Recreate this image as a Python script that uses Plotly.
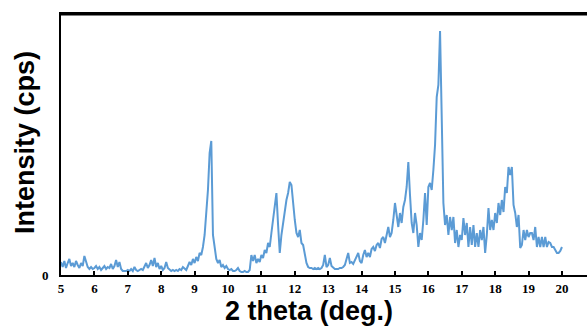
import numpy as np
import plotly.graph_objects as go

# 2-theta grid (deg), 0.05 step
theta_start, theta_step, n_pts = 5.0, 0.05, 301
two_theta = np.round(theta_start + theta_step * np.arange(n_pts), 2)

# Intensity (arbitrary units), one row per degree
intensity = [
    13, 8, 14, 7, 12, 16, 9, 12, 8, 14, 10, 7, 12, 9, 19, 14, 8, 6, 8, 6,          # 5
    7, 9, 6, 8, 5, 7, 9, 6, 8, 7, 11, 6, 9, 15, 8, 13, 6, 4, 4, 4,                 # 6
    5, 4, 6, 4, 8, 5, 4, 5, 6, 5, 8, 12, 7, 10, 15, 9, 17, 8, 12, 6,               # 7
    9, 5, 7, 13, 7, 5, 4, 5, 4, 5, 4, 6, 5, 8, 6, 5, 9, 13, 10, 16,                # 8
    12, 18, 14, 22, 20, 28, 40, 62, 85, 122, 134, 40, 28, 16, 12, 15, 8, 10, 7, 9,  # 9
    6, 5, 6, 4, 4, 5, 7, 4, 3, 3, 4, 3, 3, 5, 20, 14, 20, 12, 16, 13,              # 10
    20, 17, 25, 22, 32, 28, 42, 55, 70, 82, 50, 22, 40, 52, 62, 75, 82, 93, 90, 68, # 11
    55, 42, 38, 45, 32, 30, 22, 12, 8, 7, 7, 6, 7, 6, 7, 6, 7, 10, 20, 8,          # 12
    10, 17, 9, 7, 6, 6, 6, 7, 7, 8, 10, 16, 22, 12, 13, 11, 15, 18, 22, 14,        # 13
    12, 20, 25, 18, 22, 18, 26, 28, 24, 30, 32, 27, 36, 38, 32, 40, 48, 38, 42, 55, # 14
    72, 60, 48, 62, 52, 68, 75, 88, 113, 80, 52, 42, 62, 50, 28, 42, 35, 55, 82, 50, # 15
    88, 92, 85, 105, 130, 178, 190, 244, 140, 72, 50, 60, 40, 58, 45, 58, 32, 45, 28, 40, # 16
    35, 57, 40, 52, 28, 48, 30, 50, 28, 42, 28, 45, 35, 48, 22, 40, 67, 45, 55, 45, # 17
    62, 52, 72, 60, 75, 63, 88, 82, 108, 100, 108, 70, 62, 48, 60, 27, 30, 45, 35, 45, # 18
    38, 42, 42, 35, 48, 28, 38, 28, 38, 28, 38, 28, 33, 32, 28, 28, 25, 22, 22, 24, # 19
    28,                                                                              # 20
]

x_ticks = list(range(5, 21))
x_tick_labels = [str(v) for v in x_ticks]
y_ticks = [0]
y_tick_labels = ["0"]

fig = go.Figure()
fig.add_trace(go.Scatter(
    x=two_theta, y=intensity, mode="lines",
    line=dict(color="#5B9BD5", width=2),
    showlegend=False, hoverinfo="skip",
))

tick_font = dict(family="Liberation Serif", size=13, color="black", weight="bold")
title_font = dict(family="Liberation Sans", size=27, color="black", weight="bold")

fig.update_layout(
    width=587, height=334,
    margin=dict(l=61, r=0, t=14, b=59),
    paper_bgcolor="white", plot_bgcolor="white",
    xaxis=dict(
        range=[5, 20.75], tickvals=x_ticks, ticktext=x_tick_labels,
        showline=True, linecolor="black", linewidth=2, mirror=True,
        ticks="inside", ticklen=4, tickwidth=1.5, tickcolor="black",
        showgrid=False, zeroline=False, tickfont=tick_font,
        ticklabelstandoff=0,
    ),
    yaxis=dict(
        range=[0, 261], tickvals=y_ticks, ticktext=y_tick_labels,
        showline=True, linecolor="black", linewidth=2, mirror=False,
        ticks="", showgrid=False, zeroline=False, tickfont=tick_font,
        ticklabelstandoff=8,
    ),
    shapes=[
        dict(type="line", xref="paper", yref="paper", x0=0, x1=1, y0=1, y1=1,
             line=dict(color="black", width=3)),
    ],
    annotations=[
        dict(text="2 theta (deg.)", xref="paper", yref="paper",
             x=(309 - 61) / 526, y=(275 - 311) / 261,
             xanchor="center", yanchor="middle", showarrow=False, font=title_font),
        dict(text="Intensity (cps)", xref="paper", yref="paper",
             x=(25 - 61) / 526, y=(275 - 143) / 261, textangle=-90,
             xanchor="center", yanchor="middle", showarrow=False, font=title_font),
    ],
)

fig.write_html("out.html")
